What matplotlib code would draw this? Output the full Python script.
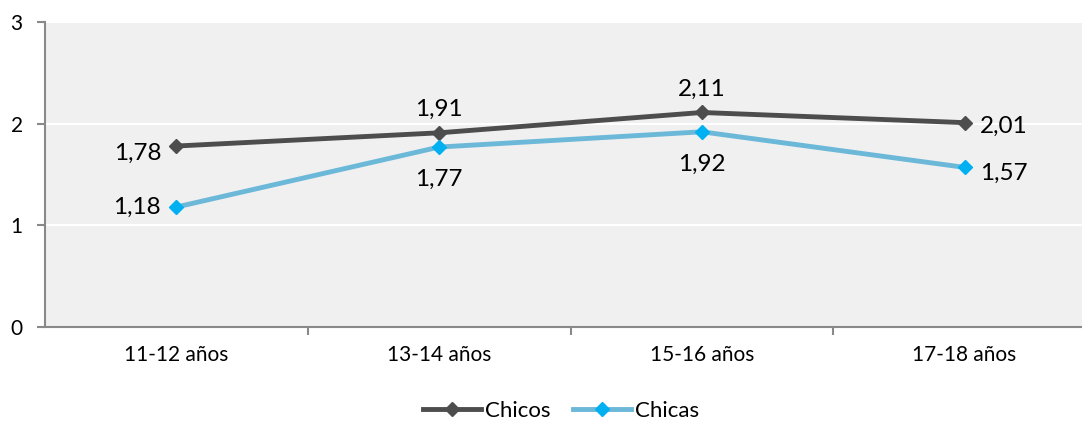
import matplotlib
matplotlib.use("Agg")
import matplotlib.pyplot as plt
from matplotlib.lines import Line2D

categories = ["11-12 años", "13-14 años", "15-16 años", "17-18 años"]
chicos = [1.78, 1.91, 2.11, 2.01]
chicas = [1.18, 1.77, 1.92, 1.57]
yticks = [0, 1, 2, 3]

plt.rcParams['font.family'] = ['Lato', 'DejaVu Sans']

W, H = 1082, 421
fig = plt.figure(figsize=(W / 100, H / 100), dpi=100)
left, right, top, bottom = 45, 1096, 22, 327
ax = fig.add_axes([left / W, 1 - bottom / H, (right - left) / W, (bottom - top) / H])
ax.set_facecolor("#F0F0F0")
ax.set_xlim(-0.5, len(categories) - 0.5)
ax.set_ylim(0, 3)
ax.set_yticks(yticks)
ax.set_yticklabels([str(v) for v in yticks], fontsize=15)
ax.yaxis.grid(True, color="white", linewidth=1.5)
ax.set_axisbelow(True)
x = list(range(len(categories)))
ax.set_xticks([i + 0.5 for i in x[:-1]])
ax.set_xticklabels([])
ax.set_xticks(x, minor=True)
ax.set_xticklabels(categories, minor=True, fontsize=15)
ax.tick_params(axis="x", which="minor", length=0, pad=13)
ax.tick_params(axis="x", which="major", length=6, color="#898989", width=1.5)
ax.tick_params(axis="y", length=6, color="#898989", width=1.5, pad=10)
for s in ["top", "right"]:
    ax.spines[s].set_visible(False)
for s in ["left", "bottom"]:
    ax.spines[s].set_color("#898989")
    ax.spines[s].set_linewidth(1.5)

c_dark = "#4D4D4D"
c_line = "#6CB8D8"
c_mark = "#00B0F0"
ax.plot(x, chicos, color=c_dark, lw=3.5, marker="D", ms=7, mfc=c_dark, mec=c_dark, zorder=3)
ax.plot(x, chicas, color=c_line, lw=3.5, marker="D", ms=7, mfc=c_mark, mec=c_mark, zorder=3)

fs = 17.5
def fmt(v):
    return f"{v:.2f}".replace(".", ",")

# Chicos labels
ax.annotate(fmt(chicos[0]), (x[0], chicos[0]), xytext=(-11, -5), textcoords="offset points", ha="right", va="center", fontsize=fs)
ax.annotate(fmt(chicos[1]), (x[1], chicos[1]), xytext=(0, 9), textcoords="offset points", ha="center", va="bottom", fontsize=fs)
ax.annotate(fmt(chicos[2]), (x[2], chicos[2]), xytext=(0, 9), textcoords="offset points", ha="center", va="bottom", fontsize=fs)
ax.annotate(fmt(chicos[3]), (x[3], chicos[3]), xytext=(11, -3), textcoords="offset points", ha="left", va="center", fontsize=fs)
# Chicas labels
ax.annotate(fmt(chicas[0]), (x[0], chicas[0]), xytext=(-11, 0), textcoords="offset points", ha="right", va="center", fontsize=fs)
ax.annotate(fmt(chicas[1]), (x[1], chicas[1]), xytext=(0, -16), textcoords="offset points", ha="center", va="top", fontsize=fs)
ax.annotate(fmt(chicas[2]), (x[2], chicas[2]), xytext=(0, -16), textcoords="offset points", ha="center", va="top", fontsize=fs)
ax.annotate(fmt(chicas[3]), (x[3], chicas[3]), xytext=(11, -4), textcoords="offset points", ha="left", va="center", fontsize=fs)

handles = [
    Line2D([], [], color=c_dark, lw=3.5, marker="D", ms=7, mfc=c_dark, mec=c_dark),
    Line2D([], [], color=c_line, lw=3.5, marker="D", ms=7, mfc=c_mark, mec=c_mark),
]
fig.legend(handles, ["Chicos", "Chicas"], loc="center", bbox_to_anchor=(561 / W, 1 - 411 / H),
           ncol=2, frameon=False, fontsize=16, handlelength=2.6, handletextpad=0.2, columnspacing=1.0)

fig.savefig("out.png", dpi=100, facecolor="white")
